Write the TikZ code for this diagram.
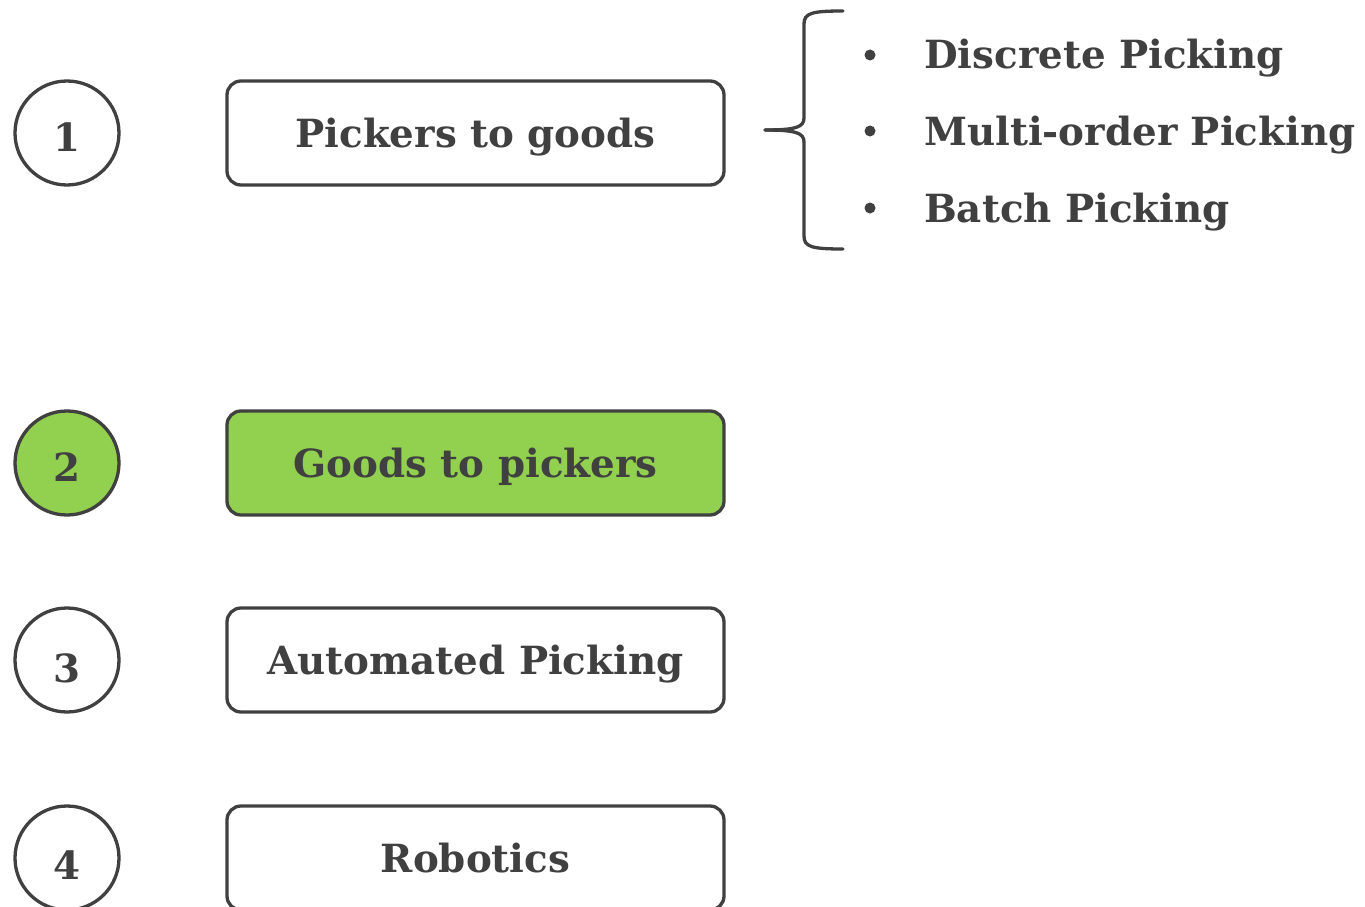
\documentclass[tikz,border=0pt]{standalone}
\usepackage{fontspec}
\setmainfont{DejaVu Serif}
\usetikzlibrary{calc}
\definecolor{ink}{HTML}{404040}
\definecolor{leaf}{HTML}{92D050}
\begin{document}
\begin{tikzpicture}[x=1pt,y=-1pt,
  txt/.style={font=\bfseries\fontsize{38.8}{42}\selectfont, text=ink,
    text height=36pt, text depth=8pt},
  num/.style={circle, draw=ink, line width=3.3pt, minimum size=104pt, inner sep=0pt},
  digit/.style={txt, inner sep=0pt},
  stage/.style={txt, draw=ink, line width=3.3pt, rounded corners=14pt,
    minimum width=497pt, minimum height=104pt, inner sep=0pt},
  hot/.style={fill=leaf},
  brace/.style={draw=ink, line width=3.3pt, line cap=round},
  item/.style={txt, anchor=west, inner sep=0pt},
  dot/.style={circle, fill=ink, inner sep=0pt, minimum size=11pt}]
\useasboundingbox (0,0) rectangle (1365,907);
\clip (0,0) rectangle (1365,907);

% numbered circles
\node[num] (c1) at (67,133) {};
\node[num, hot] (c2) at (67,463) {};
\node[num] (c3) at (67,660) {};
\node[num] (c4) at (67,858) {};
\node[digit] (d1) at ($(c1)+(0,4)$) {1};
\node[digit] (d2) at ($(c2)+(0,4)$) {2};
\node[digit] (d3) at ($(c3)+(0,8)$) {3};
\node[digit] (d4) at ($(c4)+(0,7)$) {4};

% stage boxes
\node[stage] (s1) at (475.5,133) {Pickers to goods};
\node[stage, hot] (s2) at (475.5,463) {Goods to pickers};
\node[stage] (s3) at (475.5,660) {Automated Picking};
\node[stage] (s4) at (475.5,858) {Robotics};

% curly brace
\coordinate (bt) at (843,11);
\coordinate (tip) at (765,130);
\coordinate (bb) at (843,249);
\draw[brace] (bt) .. controls (812,11) and (804,13) .. (804,24) -- (804,118)
  .. controls (804,127) and (796,130) .. (tip);
\draw[brace] (tip) .. controls (796,130) and (804,133) .. (804,142) -- (804,236)
  .. controls (804,247) and (812,249) .. (bb);

% picking methods
\node[dot] (b1) at (870,55) {};
\node[dot] (b2) at (870,131) {};
\node[dot] (b3) at (870,208) {};
\node[item] (m1) at (924,55) {Discrete Picking};
\node[item] (m2) at (924,131) {Multi-order Picking};
\node[item] (m3) at (924,208) {Batch Picking};
\end{tikzpicture}
\end{document}
